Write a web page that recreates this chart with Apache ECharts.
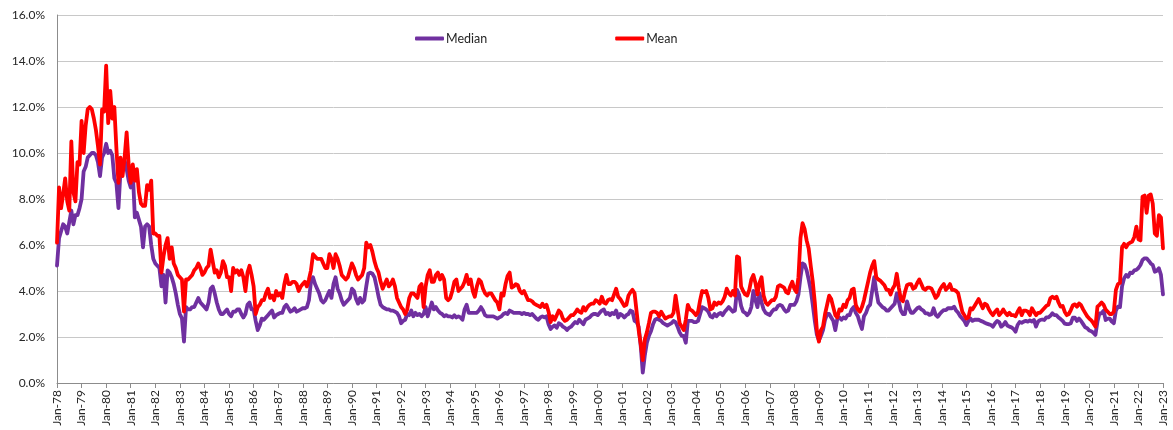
<!DOCTYPE html>
<html>
<head>
<meta charset="utf-8">
<title>Median and Mean</title>
<script src="https://cdn.jsdelivr.net/npm/echarts@6/dist/echarts.min.js"></script>
<style>
  html, body { margin: 0; padding: 0; background: #fff; }
  #chart { width: 1173px; height: 430px; }
</style>
</head>
<body>
<div id="chart"></div>
<script>
// monthly series, Jan-78 .. Jan-23 (one row per year)
const monthNames = ["Jan", "Feb", "Mar", "Apr", "May", "Jun", "Jul", "Aug", "Sep", "Oct", "Nov", "Dec"];
const firstYear = 1978;
const lastYear = 2023;

const median = [
  5.1, 6.3, 6.6, 6.9, 6.8, 6.5, 7.0, 7.5, 6.9, 7.3, 7.3, 7.6, // 78
  8.0, 9.2, 9.4, 9.8, 9.9, 10.0, 10.0, 9.9, 9.6, 9.0, 9.8, 10.0,
  10.4, 10.0, 10.1, 9.9, 8.9, 8.7, 7.6, 9.2, 9.5, 9.7, 9.3, 8.8, // 80
  8.5, 9.2, 7.2, 7.4, 7.1, 6.8, 5.9, 6.8, 6.9, 6.8, 6.0, 5.4,
  5.2, 5.1, 5.0, 4.2, 4.7, 3.5, 4.9, 4.8, 4.6, 4.3, 3.9, 3.4,
  3.0, 2.8, 1.8, 3.3, 3.2, 3.2, 3.3, 3.3, 3.5, 3.7, 3.5, 3.4,
  3.3, 3.2, 3.5, 4.1, 4.2, 3.9, 3.5, 3.2, 3.0, 3.0, 3.1, 3.2,
  3.0, 2.9, 3.1, 3.1, 3.2, 3.2, 3.0, 2.85, 3.0, 3.4, 3.5, 3.2, // 85
  3.2, 2.7, 2.3, 2.5, 2.8, 2.75, 2.85, 2.95, 3.05, 3.15, 2.85, 2.95,
  3.0, 3.05, 3.05, 3.3, 3.4, 3.25, 3.1, 3.15, 3.25, 3.1, 3.15, 3.2,
  3.25, 3.25, 3.3, 3.6, 4.4, 4.6, 4.3, 4.1, 3.9, 3.6, 3.5, 3.6,
  3.8, 4.0, 3.7, 4.3, 4.6, 4.1, 3.9, 3.6, 3.4, 3.5, 3.6, 3.7,
  4.1, 4.0, 3.65, 3.45, 3.7, 3.5, 3.6, 4.2, 4.75, 4.8, 4.75, 4.6, // 90
  4.2, 3.75, 3.4, 3.3, 3.25, 3.2, 3.2, 3.15, 3.15, 3.1, 3.05, 2.9,
  2.6, 2.7, 2.75, 3.0, 2.95, 3.15, 2.9, 3.05, 2.95, 3.0, 2.9, 3.0,
  3.3, 2.9, 3.2, 3.5, 3.2, 3.3, 3.15, 3.05, 3.0, 2.9, 2.95, 2.9,
  2.9, 2.85, 2.95, 2.85, 2.9, 2.85, 2.75, 3.2, 3.4, 3.05, 3.05, 3.05,
  3.05, 3.05, 3.15, 3.3, 3.15, 2.95, 2.9, 2.9, 2.9, 2.9, 2.85, 2.8, // 95
  2.85, 2.9, 3.0, 3.05, 3.0, 3.15, 3.1, 3.05, 3.05, 3.05, 3.05, 3.0,
  3.05, 3.0, 3.0, 2.95, 3.0, 2.9, 2.8, 2.75, 2.85, 2.9, 2.85, 2.9,
  2.55, 2.35, 2.45, 2.5, 2.4, 2.6, 2.55, 2.45, 2.4, 2.3, 2.4, 2.45,
  2.55, 2.65, 2.6, 2.75, 2.65, 2.55, 2.75, 2.8, 2.85, 2.95, 3.0, 3.0,
  2.95, 3.05, 3.15, 3.2, 3.0, 3.05, 2.95, 3.05, 3.0, 3.15, 2.85, 3.0, // 00
  2.95, 2.85, 2.95, 3.0, 3.15, 3.1, 2.7, 2.65, 2.45, 1.6, 0.45, 1.2,
  1.75, 2.05, 2.25, 2.55, 2.75, 2.8, 2.75, 2.7, 2.6, 2.55, 2.5, 2.55,
  2.6, 2.7, 2.65, 2.45, 2.2, 2.05, 2.05, 1.75, 2.7, 2.7, 2.7, 2.65,
  2.65, 2.7, 3.0, 3.3, 3.25, 3.2, 3.1, 2.9, 2.85, 3.0, 2.9, 3.0,
  3.05, 2.95, 3.1, 3.2, 3.3, 3.2, 3.1, 3.15, 4.05, 3.85, 3.35, 3.1, // 05
  3.05, 2.95, 3.05, 3.3, 4.0, 3.6, 3.3, 3.9, 3.5, 3.2, 3.05, 3.0,
  2.95, 3.1, 3.2, 3.2, 3.35, 3.4, 3.35, 3.2, 3.1, 3.15, 3.4, 3.4,
  3.4, 3.55, 3.85, 4.6, 5.2, 5.15, 4.9, 4.5, 4.05, 3.4, 2.7, 2.1,
  1.85, 2.05, 2.3, 2.75, 3.0, 3.0, 2.85, 2.7, 2.3, 2.8, 2.85, 2.75,
  2.85, 2.8, 2.95, 2.95, 3.2, 3.3, 3.05, 2.9, 2.6, 2.35, 2.9, 3.05, // 10
  3.3, 3.4, 4.0, 4.6, 4.0, 3.5, 3.4, 3.3, 3.25, 3.15, 3.15, 3.25,
  3.35, 3.45, 3.9, 3.55, 3.15, 3.0, 3.0, 3.55, 3.25, 3.05, 3.05, 3.15,
  3.25, 3.3, 3.2, 3.15, 3.03, 3.03, 2.96, 2.99, 3.25, 2.96, 2.88, 3.0,
  3.1, 3.17, 3.17, 3.25, 3.25, 3.25, 3.32, 3.15, 3.05, 2.9, 2.8, 2.7,
  2.52, 2.7, 2.8, 2.7, 2.75, 2.75, 2.75, 2.7, 2.67, 2.62, 2.58, 2.55, // 15
  2.52, 2.45, 2.6, 2.7, 2.65, 2.45, 2.52, 2.65, 2.5, 2.45, 2.42, 2.35,
  2.23, 2.52, 2.65, 2.62, 2.67, 2.7, 2.67, 2.72, 2.67, 2.74, 2.45, 2.67,
  2.74, 2.76, 2.74, 2.85, 2.85, 2.92, 3.03, 2.95, 2.95, 2.85, 2.78, 2.7,
  2.58, 2.56, 2.56, 2.6, 2.84, 2.84, 2.7, 2.8, 2.7, 2.56, 2.42, 2.38,
  2.28, 2.25, 2.19, 2.09, 2.67, 3.03, 3.03, 3.14, 2.74, 2.8, 2.8, 2.67, // 20
  2.6, 3.15, 3.32, 3.3, 4.2, 4.55, 4.7, 4.62, 4.8, 4.78, 4.9, 4.92,
  5.0, 5.13, 5.35, 5.42, 5.42, 5.32, 5.2, 5.13, 4.84, 4.88, 4.99, 4.7,
  3.85 // Jan-23
];

const mean = [
  6.1, 8.5, 7.6, 8.2, 8.9, 7.9, 7.5, 10.5, 8.3, 7.9, 9.6, 9.5, // 78
  11.4, 10.0, 11.2, 11.9, 12.0, 11.9, 11.5, 11.0, 10.3, 9.5, 11.9, 11.8,
  13.8, 11.3, 12.7, 11.5, 12.0, 10.2, 8.7, 9.8, 9.0, 9.8, 10.9, 9.5, // 80
  8.7, 9.5, 8.8, 9.3, 8.3, 7.8, 7.7, 7.7, 8.6, 8.4, 8.8, 6.5,
  6.5, 6.4, 6.4, 4.8, 5.5, 6.0, 6.3, 5.4, 5.9, 5.2, 5.0, 4.7,
  4.6, 4.5, 3.1, 4.5, 4.5, 4.6, 4.7, 4.9, 5.0, 5.2, 5.0, 4.7,
  4.8, 5.0, 5.1, 5.8, 5.3, 4.8, 4.9, 4.6, 4.8, 5.3, 5.1, 4.6,
  4.6, 4.0, 5.0, 4.8, 4.9, 4.7, 4.9, 4.6, 4.0, 4.8, 5.1, 4.7, // 85
  4.2, 3.0, 3.3, 3.4, 3.6, 3.6, 3.9, 4.1, 3.7, 3.8, 3.6, 4.0,
  3.8, 3.9, 3.7, 4.3, 4.7, 4.3, 4.3, 4.4, 4.4, 4.3, 4.0, 4.2,
  4.3, 4.4, 4.2, 4.5, 4.9, 5.6, 5.5, 5.4, 5.4, 5.4, 5.2, 5.0,
  5.0, 5.6, 5.4, 5.0, 5.6, 5.4, 5.1, 4.7, 4.6, 4.5, 4.6, 4.9,
  5.2, 5.0, 4.7, 4.5, 4.6, 4.7, 5.0, 6.1, 5.9, 6.0, 5.7, 5.3, // 90
  5.0, 4.8, 4.4, 4.1, 4.3, 4.5, 4.2, 4.3, 4.5, 4.2, 3.7, 3.5,
  3.3, 3.2, 3.0, 3.2, 3.7, 3.9, 3.9, 3.8, 3.7, 4.2, 4.3, 3.3,
  4.2, 4.7, 4.9, 4.4, 4.4, 4.7, 4.8, 4.5, 4.7, 4.5, 3.7, 3.6,
  3.7, 4.0, 4.4, 4.5, 4.0, 4.1, 4.2, 4.4, 4.7, 4.3, 4.5, 4.0,
  3.75, 4.2, 4.5, 4.4, 4.1, 3.9, 3.8, 3.9, 3.9, 3.75, 3.6, 3.5, // 95
  3.2, 3.9, 3.8, 4.3, 4.65, 4.8, 4.15, 4.2, 4.3, 4.25, 4.0, 3.9,
  4.0, 3.8, 3.6, 3.6, 3.55, 3.45, 3.4, 3.35, 3.3, 3.45, 3.3, 3.4,
  3.1, 2.65, 2.9, 2.75, 2.95, 3.15, 3.05, 2.8, 2.7, 2.75, 2.85, 2.95,
  2.95, 3.05, 3.2, 3.1, 3.05, 3.3, 3.15, 3.3, 3.4, 3.45, 3.45, 3.6,
  3.55, 3.45, 3.75, 3.5, 3.45, 3.6, 3.65, 3.6, 3.85, 4.1, 3.75, 3.65, // 00
  3.5, 3.35, 3.4, 3.8, 3.95, 4.05, 3.9, 3.1, 2.3, 1.7, 1.0, 1.9,
  2.2, 2.6, 3.05, 3.1, 3.1, 3.05, 2.9, 3.1, 2.95, 2.8, 2.85, 2.9,
  2.9, 3.05, 3.8, 3.2, 2.6, 2.45, 2.3, 2.75, 3.4, 3.2, 3.15, 3.05,
  2.95, 3.1, 3.6, 4.0, 3.95, 4.0, 3.7, 3.2, 3.25, 3.5, 3.4, 3.5,
  3.45, 3.55, 3.75, 4.1, 3.9, 3.8, 4.0, 3.8, 5.5, 5.45, 4.2, 4.0, // 05
  3.85, 3.8, 4.05, 4.5, 4.7, 4.35, 3.85, 4.35, 4.6, 3.8, 3.5, 3.4,
  3.5, 3.6, 3.6, 3.75, 4.2, 4.25, 4.2, 4.15, 3.95, 3.9, 4.2, 4.4,
  4.1, 3.95, 4.6, 6.3, 6.95, 6.7, 6.2, 5.85, 5.1, 4.4, 3.5, 2.3,
  1.8, 2.3, 2.45, 3.0, 3.4, 3.8, 3.65, 3.3, 2.95, 2.85, 3.2, 3.15,
  3.4, 3.3, 3.6, 3.7, 4.05, 4.1, 3.4, 3.2, 3.1, 3.3, 3.6, 4.0, // 10
  4.4, 4.8, 5.1, 5.3, 4.6, 4.5, 4.45, 4.35, 4.25, 4.05, 4.05, 3.85,
  4.1, 4.25, 4.75, 4.15, 3.65, 3.55, 3.95, 4.25, 4.3, 4.3, 4.1, 4.15,
  4.35, 4.5, 4.3, 4.1, 4.05, 4.15, 4.15, 4.1, 3.9, 3.7, 3.8, 4.05,
  4.2, 4.3, 4.05, 4.15, 4.3, 4.05, 4.05, 4.0, 3.9, 3.5, 3.1, 2.95,
  2.8, 2.85, 3.25, 3.2, 3.35, 3.5, 3.65, 3.45, 3.25, 3.45, 3.4, 3.2, // 15
  3.05, 2.95, 3.1, 3.2, 2.95, 3.05, 3.2, 3.05, 2.95, 3.05, 2.95, 2.95,
  2.9, 3.1, 3.25, 2.95, 3.15, 3.15, 3.1, 2.95, 3.25, 3.1, 2.95, 3.05,
  3.05, 3.15, 3.25, 3.35, 3.4, 3.68, 3.75, 3.68, 3.75, 3.5, 3.32, 3.35,
  3.1, 2.95, 3.0, 3.17, 3.38, 3.42, 3.32, 3.46, 3.38, 3.2, 3.05, 2.9,
  2.8, 2.72, 2.6, 2.45, 3.32, 3.4, 3.5, 3.4, 3.2, 3.1, 3.0, 3.0, // 20
  3.1, 4.05, 4.3, 4.35, 5.9, 6.05, 5.9, 6.05, 6.1, 6.15, 6.35, 6.8,
  6.25, 6.2, 8.1, 8.15, 7.4, 8.15, 8.2, 7.8, 6.5, 6.4, 7.3, 7.2,
  5.85 // Jan-23
];

const yTicks = { min: 0, max: 16, step: 2 };

const categories = [];
for (let y = firstYear; y <= lastYear; y++) {
  for (let m = 0; m < 12; m++) {
    if (y === lastYear && m > 0) break;
    categories.push(monthNames[m] + "-" + String(y).slice(2));
  }
}

const chart = echarts.init(document.getElementById("chart"));
const font = "Lato, 'Open Sans', sans-serif";

chart.setOption({
  animation: false,
  color: ["#7030A0", "#FF0000"],
  textStyle: { fontFamily: font },
  legend: {
    data: ["Median", "Mean"],
    left: 410,
    top: 27,
    itemWidth: 29,
    itemHeight: 4,
    itemGap: 128,
    icon: "roundRect",
    textStyle: { fontSize: 12.5, color: "#262626", fontFamily: font, padding: [0, 0, 0, -3] }
  },
  grid: {
    left: 57,
    right: 10,
    top: 15,
    bottom: 47,
    containLabel: false,
    outerBoundsMode: "none"
  },
  xAxis: {
    type: "category",
    data: categories,
    boundaryGap: false,
    axisLine: { lineStyle: { color: "#8c8c8c", width: 1 } },
    axisTick: { interval: 11, length: 5, lineStyle: { color: "#8c8c8c" } },
    axisLabel: {
      interval: 11,
      rotate: 90,
      margin: 7,
      fontSize: 12,
      color: "#262626",
      fontFamily: font
    },
    splitLine: { show: false }
  },
  yAxis: {
    type: "value",
    min: yTicks.min,
    max: yTicks.max,
    interval: yTicks.step,
    axisLine: { show: true, lineStyle: { color: "#8c8c8c", width: 1 } },
    axisTick: { show: false },
    axisLabel: {
      margin: 12,
      fontSize: 12,
      color: "#262626",
      fontFamily: font,
      formatter: (v) => v.toFixed(1) + "%"
    },
    splitLine: { lineStyle: { color: "#c8c8c8", width: 1 } }
  },
  series: [
    {
      name: "Median",
      type: "line",
      data: median,
      symbol: "none",
      lineStyle: { width: 3.8, color: "#7030A0", cap: "round", join: "round" }
    },
    {
      name: "Mean",
      type: "line",
      data: mean,
      symbol: "none",
      lineStyle: { width: 3.8, color: "#FF0000", cap: "round", join: "round" }
    }
  ]
});
</script>
</body>
</html>
